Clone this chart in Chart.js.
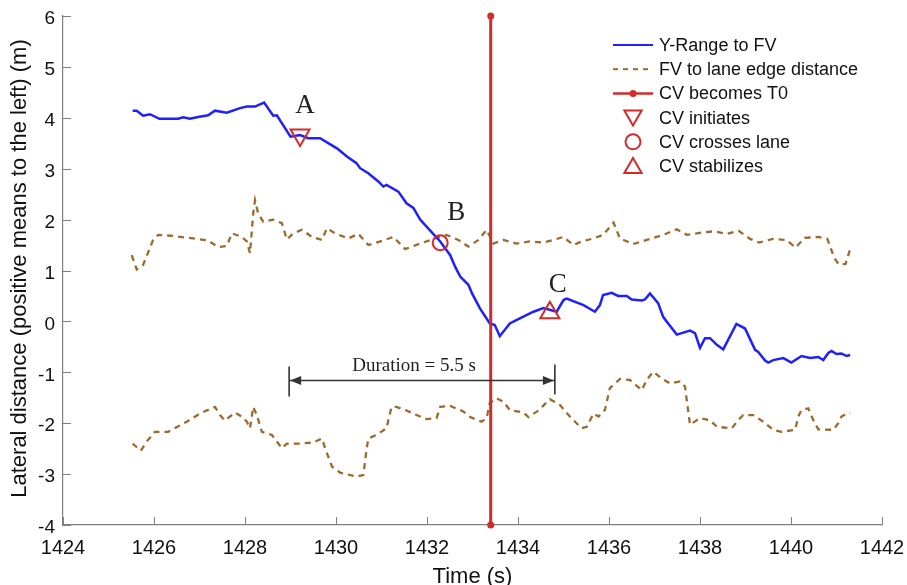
<!DOCTYPE html>
<html>
<head>
<meta charset="utf-8">
<script src="https://cdn.jsdelivr.net/npm/chart.js@4"></script>
<style>
  html, body { margin: 0; padding: 0; background: #fff; }
  #wrap { width: 907px; height: 585px; }
</style>
</head>
<body>
<div id="wrap"><canvas id="myChart" width="907" height="585"></canvas></div>
<script>
// y-range to FV (blue)
const rangeTime = [1425.53,1425.62,1425.76,1425.91,1426.12,1426.53,1426.64,1426.79,1426.94,1427.19,1427.34,1427.60,1427.89,1428.04,1428.22,1428.42,1428.62,1428.70,1429.00,1429.21,1429.39,1429.65,1430.02,1430.24,1430.45,1430.53,1430.71,1430.93,1431.04,1431.11,1431.37,1431.55,1431.70,1431.85,1431.92,1432.29,1432.51,1432.62,1432.73,1432.91,1432.99,1433.16,1433.38,1433.49,1433.60,1433.82,1434.04,1434.34,1434.56,1434.85,1435.00,1435.07,1435.44,1435.69,1435.80,1435.87,1436.06,1436.20,1436.39,1436.50,1436.72,1436.79,1436.90,1437.08,1437.19,1437.30,1437.49,1437.78,1437.89,1438.00,1438.11,1438.22,1438.37,1438.51,1438.80,1438.99,1439.21,1439.28,1439.43,1439.50,1439.61,1439.83,1440.01,1440.23,1440.42,1440.60,1440.71,1440.82,1440.89,1441.00,1441.11,1441.22,1441.30];
const rangeY = [4.14,4.14,4.04,4.07,3.98,3.98,4.01,3.98,4.01,4.05,4.14,4.10,4.19,4.22,4.22,4.30,4.04,4.05,3.63,3.66,3.60,3.60,3.40,3.24,3.11,3.01,2.91,2.75,2.65,2.68,2.55,2.32,2.23,2.00,1.93,1.57,1.30,1.07,0.88,0.72,0.55,0.26,-0.04,-0.07,-0.29,-0.04,0.06,0.19,0.26,0.19,0.42,0.45,0.32,0.19,0.32,0.52,0.56,0.50,0.50,0.43,0.41,0.43,0.55,0.36,0.09,-0.04,-0.26,-0.18,-0.23,-0.52,-0.33,-0.33,-0.46,-0.55,-0.05,-0.14,-0.56,-0.60,-0.77,-0.81,-0.76,-0.72,-0.81,-0.68,-0.72,-0.70,-0.76,-0.62,-0.58,-0.64,-0.63,-0.68,-0.66];

// FV to lane edge, left edge (upper dashed)
const leftEdgeTime = [1425.51,1425.62,1425.76,1425.98,1426.09,1426.42,1426.86,1427.19,1427.41,1427.60,1427.71,1427.93,1428.04,1428.11,1428.18,1428.22,1428.29,1428.40,1428.62,1428.81,1428.92,1429.06,1429.25,1429.47,1429.69,1429.80,1429.98,1430.27,1430.49,1430.71,1431.04,1431.26,1431.52,1431.85,1432.18,1432.43,1432.69,1432.91,1433.13,1433.31,1433.46,1433.68,1433.97,1434.26,1434.56,1434.78,1435.00,1435.22,1435.40,1435.66,1435.87,1436.10,1436.24,1436.53,1436.83,1437.19,1437.49,1437.71,1438.00,1438.30,1438.60,1438.85,1439.10,1439.30,1439.60,1439.90,1440.10,1440.30,1440.60,1440.80,1440.95,1441.05,1441.20,1441.30];
const leftEdgeY = [1.30,1.02,1.11,1.60,1.70,1.68,1.63,1.59,1.46,1.48,1.73,1.66,1.57,1.34,2.12,2.38,2.12,1.96,2.00,1.93,1.61,1.73,1.80,1.66,1.60,1.83,1.73,1.63,1.72,1.50,1.59,1.66,1.42,1.53,1.63,1.70,1.60,1.47,1.60,1.80,1.53,1.60,1.53,1.57,1.55,1.60,1.66,1.50,1.57,1.63,1.70,1.94,1.63,1.52,1.60,1.70,1.81,1.70,1.74,1.77,1.72,1.78,1.62,1.55,1.62,1.60,1.45,1.64,1.66,1.62,1.25,1.12,1.13,1.42];

// FV to lane edge, right edge (lower dashed)
const rightEdgeTime = [1425.53,1425.71,1425.84,1426.02,1426.31,1426.72,1427.01,1427.34,1427.45,1427.56,1427.78,1427.93,1428.04,1428.11,1428.18,1428.26,1428.37,1428.59,1428.81,1428.92,1429.21,1429.50,1429.69,1429.76,1429.91,1430.09,1430.45,1430.60,1430.67,1430.71,1430.89,1431.11,1431.22,1431.33,1431.55,1431.77,1431.99,1432.21,1432.29,1432.51,1432.80,1432.95,1433.20,1433.31,1433.38,1433.53,1433.68,1433.82,1434.12,1434.23,1434.45,1434.70,1434.92,1435.14,1435.40,1435.51,1435.66,1435.77,1435.91,1436.02,1436.24,1436.46,1436.72,1436.83,1436.97,1437.16,1437.34,1437.56,1437.67,1437.78,1438.00,1438.22,1438.37,1438.70,1438.84,1438.95,1439.17,1439.39,1439.61,1439.79,1440.09,1440.16,1440.23,1440.38,1440.49,1440.60,1440.93,1441.04,1441.11,1441.22,1441.30];
const rightEdgeY = [-2.40,-2.54,-2.36,-2.17,-2.17,-1.97,-1.81,-1.68,-1.84,-1.95,-1.79,-1.87,-1.97,-2.10,-1.68,-1.84,-2.17,-2.23,-2.49,-2.40,-2.40,-2.38,-2.30,-2.49,-2.85,-2.97,-3.05,-3.02,-2.53,-2.30,-2.23,-2.10,-1.68,-1.68,-1.75,-1.84,-1.92,-1.90,-1.68,-1.66,-1.77,-1.88,-1.97,-1.90,-1.60,-1.51,-1.58,-1.74,-1.79,-1.88,-1.75,-1.53,-1.64,-1.87,-2.10,-2.07,-1.81,-1.87,-1.74,-1.31,-1.13,-1.15,-1.35,-1.15,-0.99,-1.12,-1.22,-1.18,-1.28,-2.03,-1.90,-1.94,-2.07,-2.10,-1.94,-1.84,-1.84,-1.97,-2.13,-2.17,-2.13,-1.87,-1.74,-1.71,-1.94,-2.12,-2.13,-2.00,-1.87,-1.81,-1.80];

// events
const t0Time = 1433.4;
const t0Range = [-4, 6];
const initiates = { x: 1429.21, y: 3.66, label: 'A' };
const crosses = { x: 1432.29, y: 1.545, label: 'B' };
const stabilizes = { x: 1434.70, y: 0.17, label: 'C' };
const durationStart = 1428.97;
const durationEnd = 1434.81;
const durationLevel = -1.15;
const durationText = 'Duration = 5.5 s';

const xTicksMin = 1424, xTicksMax = 1442, xStep = 2;
const yTicksMin = -4, yTicksMax = 6, yStep = 1;

const blue = '#1f1fff';
const brown = '#9c6a2e';
const red = '#d42a2a';
const axisGray = '#808080';

function pts(xs, ys) {
  return xs.map((x, i) => ({ x: x, y: ys[i] }));
}

const legendItems = [
  { text: 'Y-Range to FV', kind: 'line', color: blue },
  { text: 'FV to lane edge distance', kind: 'dash', color: brown },
  { text: 'CV becomes T0', kind: 'lineDot', color: red },
  { text: 'CV initiates', kind: 'triDown', color: red },
  { text: 'CV crosses lane', kind: 'circle', color: red },
  { text: 'CV stabilizes', kind: 'triUp', color: red }
];

function drawMarker(ctx, kind, x, y, r) {
  ctx.beginPath();
  if (kind === 'circle') {
    ctx.arc(x, y, r, 0, Math.PI * 2);
  } else {
    const s = kind === 'triDown' ? -1 : 1;
    ctx.moveTo(x, y - s * r);
    ctx.lineTo(x + r * 0.866, y + s * r / 2);
    ctx.lineTo(x - r * 0.866, y + s * r / 2);
    ctx.closePath();
  }
  ctx.stroke();
}

const extras = {
  id: 'extras',
  afterDraw(chart) {
    const ctx = chart.ctx;
    const xs = chart.scales.x, ys = chart.scales.y;
    const area = chart.chartArea;
    ctx.save();

    // inward tick marks
    ctx.strokeStyle = axisGray;
    ctx.lineWidth = 1;
    xs.ticks.forEach(t => {
      const px = Math.round(xs.getPixelForValue(t.value)) + 0.5;
      ctx.beginPath();
      ctx.moveTo(px, area.bottom);
      ctx.lineTo(px, area.bottom - 8);
      ctx.stroke();
    });
    ys.ticks.forEach(t => {
      const py = Math.round(ys.getPixelForValue(t.value)) + 0.5;
      ctx.beginPath();
      ctx.moveTo(area.left, py);
      ctx.lineTo(area.left + 8, py);
      ctx.stroke();
    });

    // axis titles
    ctx.fillStyle = '#111';
    ctx.font = '22px "Liberation Sans", Arial, sans-serif';
    ctx.textAlign = 'center';
    ctx.textBaseline = 'middle';
    ctx.fillText('Time (s)', (area.left + area.right) / 2, 577);
    ctx.save();
    ctx.translate(20, (area.top + area.bottom) / 2 - 2);
    ctx.rotate(-Math.PI / 2);
    ctx.fillText('Lateral distance (positive means to the left) (m)', 0, 0);
    ctx.restore();

    // A B C labels
    ctx.font = '27px "Liberation Serif", "Times New Roman", serif';
    ctx.fillStyle = '#222';
    ctx.textBaseline = 'alphabetic';
    [[initiates, 5, 22], [crosses, 16, 23], [stabilizes, 8, 21]].forEach(([p, dx, dy]) => {
      const px = xs.getPixelForValue(p.x) + dx;
      const py = ys.getPixelForValue(p.y) - dy;
      ctx.fillText(p.label, px, py);
    });

    // duration arrow
    const x1 = xs.getPixelForValue(durationStart);
    const x2 = xs.getPixelForValue(durationEnd);
    const yd = Math.round(ys.getPixelForValue(durationLevel)) + 0.5;
    ctx.strokeStyle = '#333';
    ctx.fillStyle = '#333';
    ctx.lineWidth = 1.6;
    ctx.beginPath();
    ctx.moveTo(x1, yd); ctx.lineTo(x2, yd);
    ctx.moveTo(x1, yd - 14); ctx.lineTo(x1, yd + 16);
    ctx.moveTo(x2, yd - 16); ctx.lineTo(x2, yd + 14);
    ctx.stroke();
    ctx.beginPath();
    ctx.moveTo(x1 + 1, yd); ctx.lineTo(x1 + 12, yd - 4.5); ctx.lineTo(x1 + 12, yd + 4.5); ctx.closePath();
    ctx.fill();
    ctx.beginPath();
    ctx.moveTo(x2 - 1, yd); ctx.lineTo(x2 - 12, yd - 4.5); ctx.lineTo(x2 - 12, yd + 4.5); ctx.closePath();
    ctx.fill();
    ctx.font = '19px "Liberation Serif", "Times New Roman", serif';
    ctx.fillStyle = '#222';
    ctx.fillText(durationText, (x1 + x2) / 2 - 8, yd - 10);

    // legend
    ctx.font = '18px "Liberation Sans", Arial, sans-serif';
    ctx.textAlign = 'left';
    ctx.textBaseline = 'middle';
    legendItems.forEach((it, i) => {
      const ly = 45 + i * 24.2;
      const lx0 = 613, lx1 = 653;
      ctx.strokeStyle = it.color;
      ctx.fillStyle = it.color;
      ctx.lineWidth = 2;
      ctx.setLineDash([]);
      if (it.kind === 'line' || it.kind === 'lineDot' || it.kind === 'dash') {
        if (it.kind === 'dash') ctx.setLineDash([5, 5]);
        ctx.lineWidth = it.kind === 'lineDot' ? 2.5 : 2;
        ctx.beginPath();
        ctx.moveTo(lx0, ly); ctx.lineTo(lx1, ly);
        ctx.stroke();
        ctx.setLineDash([]);
        if (it.kind === 'lineDot') {
          ctx.beginPath();
          ctx.arc((lx0 + lx1) / 2, ly, 3.5, 0, Math.PI * 2);
          ctx.fill();
        }
      } else {
        drawMarker(ctx, it.kind, (lx0 + lx1) / 2, ly + (it.kind === 'triDown' ? -2 : it.kind === 'triUp' ? 2 : 0), it.kind === 'circle' ? 7.5 : 10);
      }
      ctx.fillStyle = '#111';
      ctx.fillText(it.text, 659, ly + 1);
    });

    ctx.restore();
  }
};

const ctx = document.getElementById('myChart').getContext('2d');
new Chart(ctx, {
  type: 'line',
  data: {
    datasets: [
      {
        label: 'CV initiates',
        data: [{ x: initiates.x, y: initiates.y }],
        showLine: false,
        pointStyle: 'triangle',
        rotation: 180,
        pointRadius: 11,
        pointBorderWidth: 2,
        borderColor: red,
        backgroundColor: 'rgba(0,0,0,0)',
        order: 0
      },
      {
        label: 'CV crosses lane',
        data: [{ x: crosses.x, y: crosses.y }],
        showLine: false,
        pointStyle: 'circle',
        pointRadius: 7.5,
        pointBorderWidth: 2,
        borderColor: red,
        backgroundColor: 'rgba(0,0,0,0)',
        order: 0
      },
      {
        label: 'CV stabilizes',
        data: [{ x: stabilizes.x, y: stabilizes.y }],
        showLine: false,
        pointStyle: 'triangle',
        pointRadius: 11,
        pointBorderWidth: 2,
        borderColor: red,
        backgroundColor: 'rgba(0,0,0,0)',
        order: 0
      },
      {
        label: 'CV becomes T0',
        data: t0Range.map(v => ({ x: t0Time, y: v })),
        borderColor: red,
        backgroundColor: red,
        borderWidth: 3,
        pointRadius: 3.5,
        pointBorderWidth: 0,
        clip: false,
        order: 1
      },
      {
        label: 'Y-Range to FV',
        data: pts(rangeTime, rangeY),
        borderColor: blue,
        borderWidth: 2.5,
        pointRadius: 0,
        tension: 0,
        order: 2
      },
      {
        label: 'FV to lane edge distance',
        data: pts(leftEdgeTime, leftEdgeY),
        borderColor: brown,
        borderWidth: 2.3,
        borderDash: [6, 5],
        pointRadius: 0,
        tension: 0,
        order: 3
      },
      {
        label: 'FV to lane edge distance (right)',
        data: pts(rightEdgeTime, rightEdgeY),
        borderColor: brown,
        borderWidth: 2.3,
        borderDash: [6, 5],
        pointRadius: 0,
        tension: 0,
        order: 3
      }
    ]
  },
  options: {
    responsive: false,
    animation: false,
    events: [],
    layout: { padding: { left: 0, right: 25, top: 16, bottom: 0 } },
    plugins: { legend: { display: false }, tooltip: { enabled: false } },
    scales: {
      x: {
        type: 'linear',
        min: xTicksMin,
        max: xTicksMax,
        afterFit: s => { s.height = 60; s.paddingLeft = 0; s.paddingRight = 0; },
        ticks: {
          stepSize: xStep,
          padding: 11,
          color: '#111',
          maxRotation: 0,
          callback: v => String(v),
          font: { family: '"Liberation Sans", Arial, sans-serif', size: 20 }
        },
        grid: { display: false, drawTicks: false },
        border: { display: true, color: axisGray, width: 1.2 }
      },
      y: {
        min: yTicksMin,
        max: yTicksMax,
        afterFit: s => { s.width = 63; s.paddingTop = 0; s.paddingBottom = 0; },
        ticks: {
          stepSize: yStep,
          padding: 8,
          labelOffset: 3,
          color: '#111',
          font: { family: '"Liberation Sans", Arial, sans-serif', size: 19 }
        },
        grid: { display: false, drawTicks: false },
        border: { display: true, color: axisGray, width: 1.2 }
      }
    }
  },
  plugins: [extras]
});
</script>
</body>
</html>
